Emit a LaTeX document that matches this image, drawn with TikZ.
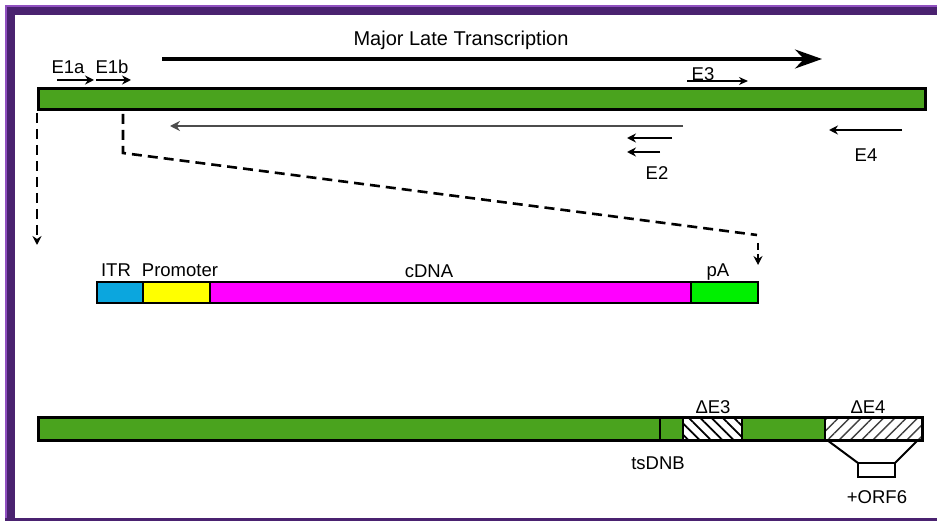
\documentclass[tikz,border=0pt]{standalone}
\usepackage{fontspec}
\setmainfont{Liberation Sans}
\usetikzlibrary{arrows.meta,patterns.meta}
\definecolor{purpD}{HTML}{4A2270}
\definecolor{purpL}{HTML}{9050C0}
\definecolor{gbar}{HTML}{4AA31E}
\definecolor{gpa}{HTML}{00F000}
\definecolor{itrblue}{HTML}{0BA6DE}
\definecolor{promyel}{HTML}{FFFF00}
\definecolor{cdnamag}{HTML}{FF00FF}
\tikzset{
  seg/.style={draw=black, line width=1.8pt, inner sep=0pt, outer sep=0pt, anchor=north west},
  lbl/.style={inner sep=0pt, font=\fontsize{18.5}{21}\selectfont},
  smallarr/.style={line width=2.4pt, -{Stealth[length=9pt,width=9pt]}},
  bigarr/.style={line width=3.4pt, -{Stealth[length=27pt,width=19pt,inset=9pt]}},
  dashline/.style={line width=2.6pt, dash pattern=on 10pt off 6pt},
  dasharr/.style={dashline, -{Stealth[length=9pt,width=9pt]}},
}
\begin{document}
\begin{tikzpicture}[x=1pt,y=-1pt]
\useasboundingbox (0,0) rectangle (937,521);
\fill[white] (0,0) rectangle (937,521);
% frame
\fill[purpL] (5,5) rectangle (937,15);
\fill[purpL] (5,5) rectangle (15,521);
\fill[purpD] (7,7) rectangle (937,15);
\fill[purpD] (7,7) rectangle (15,521);
\fill[purpD] (5,518) rectangle (937,521);

% top genome bar
\node[seg, fill=gbar, line width=3pt, minimum width=887pt, minimum height=21pt] (genome) at (38,89) {};

% major late transcription
\node[lbl, font=\fontsize{20}{23}\selectfont] (mlt) at (461,40) {Major Late Transcription};
\coordinate (ml1) at (162,59);
\coordinate (ml2) at (822,59);
\draw[bigarr] (ml1) -- (ml2);

% E1a, E1b
\node[lbl] (e1a) at (68,67) {E1a};
\node[lbl] (e1b) at (112,67) {E1b};
\coordinate (e1as) at (57,80); \coordinate (e1ae) at (94,80);
\coordinate (e1bs) at (96,80); \coordinate (e1be) at (131,80);
\draw[smallarr] (e1as) -- (e1ae);
\draw[smallarr] (e1bs) -- (e1be);

% E3
\node[lbl] (e3) at (703,74) {E3};
\coordinate (e3s) at (687,81); \coordinate (e3e) at (748,81);
\draw[line width=2pt, -{Stealth[length=9pt,width=8pt]}] (e3s) -- (e3e);

% long leftward transcript
\coordinate (lls) at (683,126); \coordinate (lle) at (170,126);
\draw[line width=2.2pt, black!70, -{Stealth[length=10pt,width=10pt]}] (lls) -- (lle);

% E2
\coordinate (e2as) at (672,138); \coordinate (e2ae) at (627,138);
\coordinate (e2bs) at (660,152); \coordinate (e2be) at (627,152);
\draw[smallarr] (e2as) -- (e2ae);
\draw[smallarr] (e2bs) -- (e2be);
\node[lbl] (e2) at (657,173) {E2};

% E4
\coordinate (e4s) at (902,130); \coordinate (e4e) at (829,130);
\draw[smallarr] (e4s) -- (e4e);
\node[lbl] (e4) at (866,155) {E4};

% dashed lines
\coordinate (d1s) at (37,113); \coordinate (d1e) at (37,245);
\draw[dasharr] (d1s) -- (d1e);
\coordinate (d2s) at (123,114); \coordinate (d2k) at (123,153); \coordinate (d2e) at (757,235);
\draw[dashline] (d2s) -- (d2k) -- (d2e);
\coordinate (d3s) at (758,243); \coordinate (d3e) at (758,265);
\draw[line width=2.4pt, dash pattern=on 7pt off 4pt, -{Stealth[length=9pt,width=9pt]}] (d3s) -- (d3e);

% cassette
\node[seg, fill=itrblue, minimum width=46pt, minimum height=21pt] (itr) at (97,282) {};
\node[seg, fill=promyel, minimum width=67pt, minimum height=21pt] (prom) at (143,282) {};
\node[seg, fill=cdnamag, minimum width=481pt, minimum height=21pt] (cdna) at (210,282) {};
\node[seg, fill=gpa, minimum width=67pt, minimum height=21pt] (pa) at (691,282) {};
\draw[line width=2.6pt] (itr.north west) rectangle (pa.south east);
\node[lbl] (itrl) at (116,270) {ITR};
\node[lbl] (proml) at (180,270) {Promoter};
\node[lbl] (cdnal) at (429,271) {cDNA};
\node[lbl] (pal) at (718,272) {pA};

% bottom vector genome
\node[seg, fill=gbar, minimum width=622pt, minimum height=23pt] (g1) at (38,417) {};
\node[seg, fill=gbar, minimum width=23pt, minimum height=23pt] (g2) at (660,417) {};
\node[seg, fill=white, pattern={Lines[angle=-45,distance=8pt,line width=1.8pt]}, minimum width=59pt, minimum height=23pt] (h1) at (683,417) {};
\node[seg, fill=gbar, minimum width=83pt, minimum height=23pt] (g3) at (742,417) {};
\node[seg, pattern={Lines[angle=45,distance=8pt,line width=1.4pt]}, pattern color=black!75, minimum width=97pt, minimum height=23pt] (h2) at (825,417) {};
\draw[line width=3pt] (g1.north west) rectangle (h2.south east);
\node[lbl] (de3) at (713,407) {ΔE3};
\node[lbl] (de4) at (868,407) {ΔE4};
\node[lbl] (tsdnb) at (658,463) {tsDNB};

% ORF6
\node[seg, minimum width=37pt, minimum height=14pt, line width=2pt] (orf) at (858,463) {};
\draw[line width=2pt] ([xshift=2pt]h2.south west) -- (orf.north west);
\draw[line width=2pt] ([xshift=-4pt]h2.south east) -- (orf.north east);
\node[lbl] (orfl) at (877,497) {+ORF6};
\end{tikzpicture}
\end{document}
